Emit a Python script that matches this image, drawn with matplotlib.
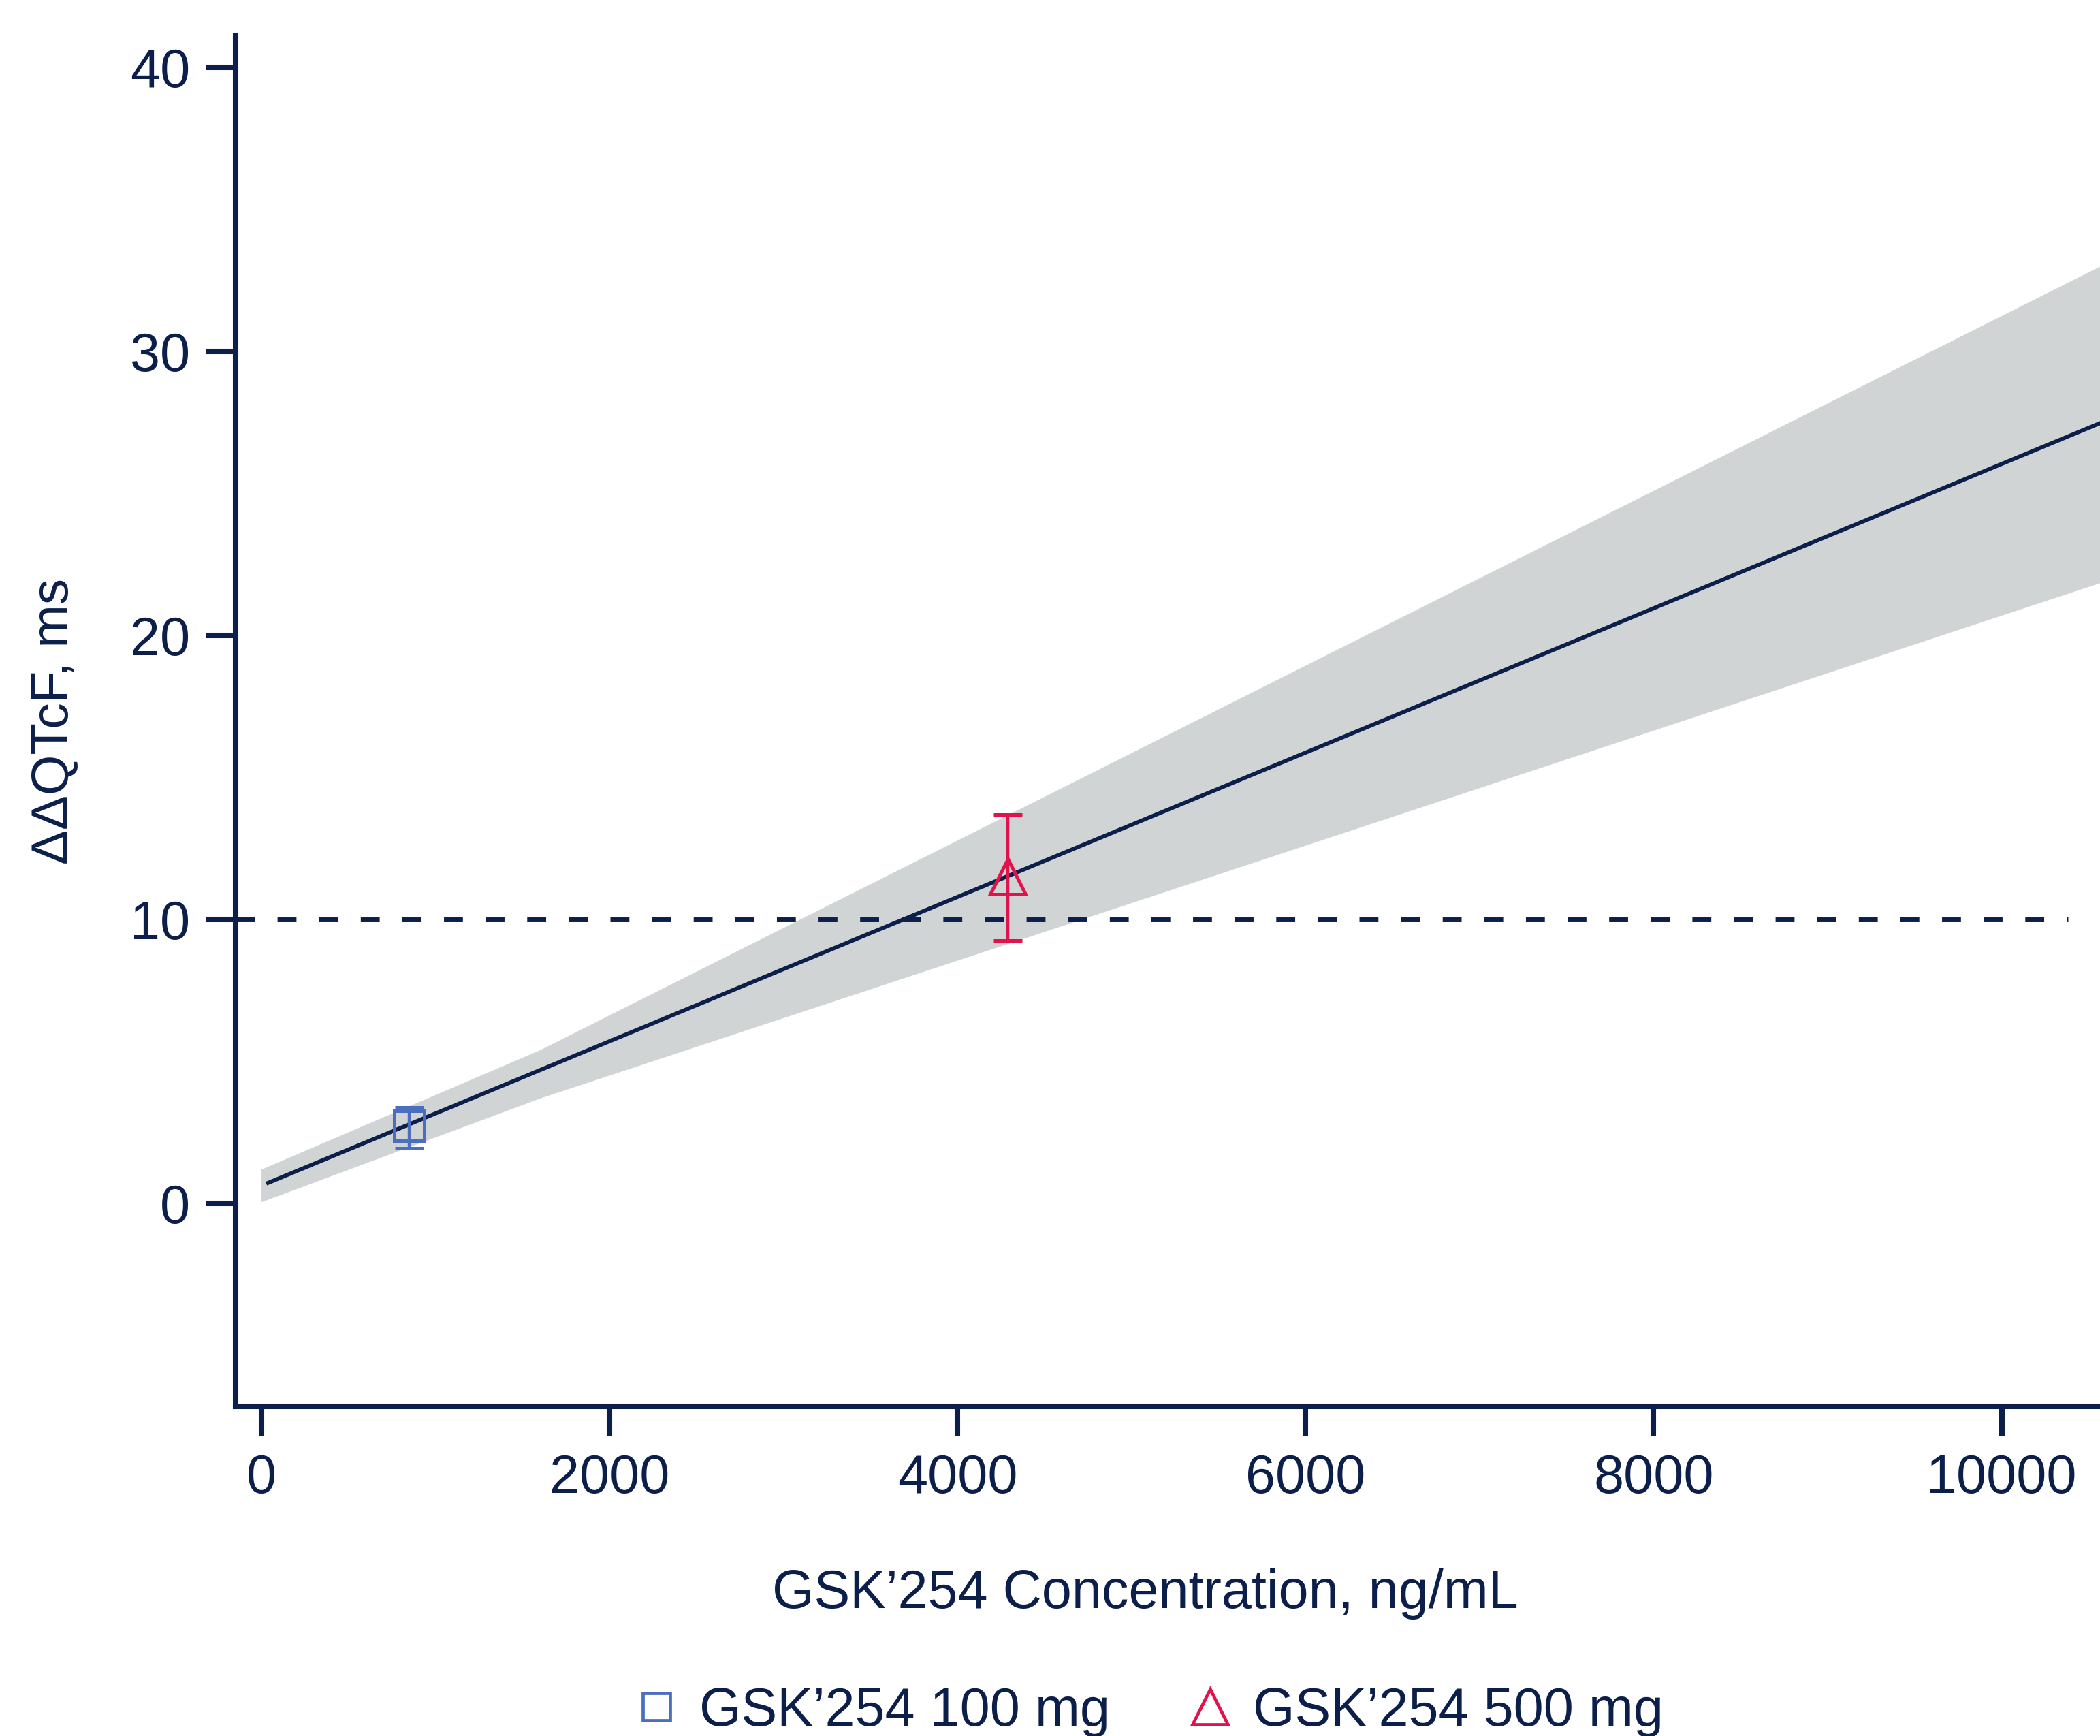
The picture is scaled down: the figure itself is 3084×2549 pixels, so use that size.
#Concentration - QTc plot
import numpy as np
import matplotlib.pyplot as plt
from matplotlib.lines import Line2D

plt.rcParams['font.family'] = ['Liberation Sans', 'DejaVu Sans']

navy = '#0c1e4a'
blue = '#4b6fbe'
red = '#e0144c'
band_col = '#d0d4d5'

#Model prediction
fit_x = [40, 10565]
fit_y = [0.72, 27.47]
band_x = [0, 1600, 10565]
band_lo = [0.05, 3.7, 21.85]
band_hi = [1.2, 5.4, 33.0]

#Observed group means with 90% CI
dose_labels = ["GSK\u2019254 100 mg", "GSK\u2019254 500 mg"]
conc = [849, 4290]
ddqtc = [2.72, 11.5]
ci_lo = [1.94, 9.26]
ci_hi = [3.38, 13.7]

threshold = 10
xticks = [0, 2000, 4000, 6000, 8000, 10000]
yticks = [0, 10, 20, 30, 40]

fig = plt.figure(figsize=(30.84, 25.49), dpi=100)
ax = fig.add_axes([0.1122, 0.1899, 0.8878, 0.7893])

ax.fill_between(band_x, band_lo, band_hi, color=band_col, lw=0, zorder=1)
ax.plot(fit_x, fit_y, color=navy, lw=4.2, zorder=3)
ax.hlines(threshold, -147, 10380, colors=navy, lw=5, linestyles=(0, (4, 4.8)), zorder=2)

colors = [blue, red]
markers = ['s', '^']
sizes = [31, 37]
for i in range(2):
    yerr = [[ddqtc[i] - ci_lo[i]], [ci_hi[i] - ddqtc[i]]]
    ax.errorbar([conc[i]], [ddqtc[i]], yerr=yerr, fmt=markers[i], color=colors[i],
                mfc='none', mec=colors[i], ms=sizes[i], mew=3.6, elinewidth=3.2,
                capsize=15, capthick=3.8, zorder=4)

ax.set_xlim(-147, 10565)
ax.set_ylim(-7.15, 41.1)
ax.set_xticks(xticks)
ax.set_yticks(yticks)

for s in ['top', 'right']:
    ax.spines[s].set_visible(False)
for s in ['left', 'bottom']:
    ax.spines[s].set_linewidth(5.8)
    ax.spines[s].set_color(navy)
ax.tick_params(axis='both', length=32, width=5.8, color=navy, labelcolor=navy, labelsize=57)
ax.tick_params(axis='y', pad=16)
ax.tick_params(axis='x', pad=18)

ax.set_xlabel("GSK\u2019254 Concentration, ng/mL", fontsize=57, color=navy, va='center')
ax.xaxis.set_label_coords(0.488, -0.137)
ax.set_ylabel("\u0394\u0394QTcF, ms", fontsize=55, color=navy, va='center')
ax.yaxis.set_label_coords(-0.0975, 0.5)

handles = [Line2D([], [], ls='none', marker='s', ms=29, mfc='none', mec=blue, mew=3.4),
           Line2D([], [], ls='none', marker='^', ms=38, mfc='none', mec=red, mew=3.4)]
fig.legend(handles, dose_labels, loc='center', bbox_to_anchor=(0.546, 0.014), ncol=2,
           frameon=False, fontsize=57, labelcolor=navy, handletextpad=0.3,
           columnspacing=1.35, handlelength=1.0)

plt.savefig('out.png', dpi=100)
